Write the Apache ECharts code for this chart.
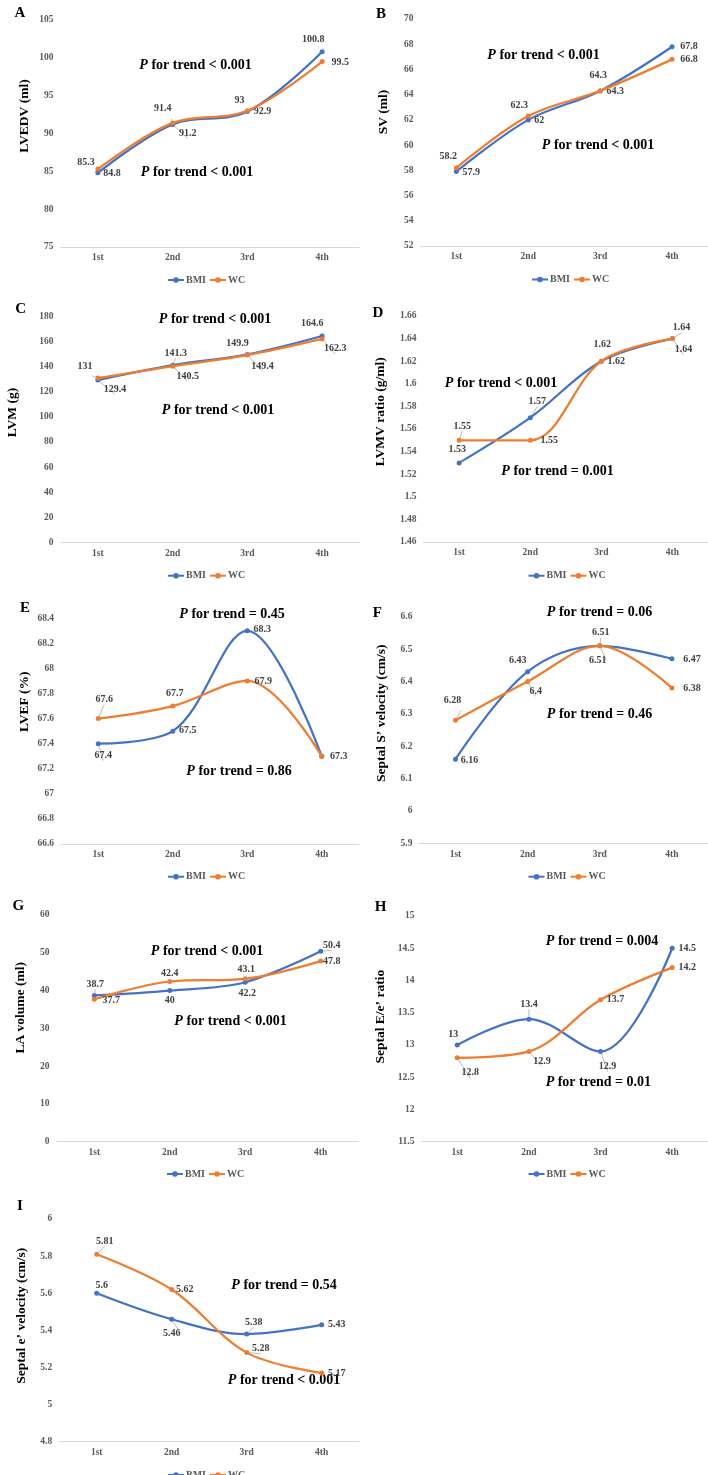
<!DOCTYPE html>
<html><head><meta charset="utf-8">
<script src="https://cdn.jsdelivr.net/npm/echarts@6/dist/echarts.min.js"></script>
<style>html,body{margin:0;padding:0;background:#fff}#c{width:708px;height:1475px}</style>
</head><body><div id="c"></div>
<script>
// ---------- DATA ----------
const categories = ['1st', '2nd', '3rd', '4th'];
const seriesNames = ['BMI', 'WC'];

const lvedvBMI = [84.8, 91.2, 92.9, 100.8];
const lvedvWC  = [85.3, 91.4, 93, 99.5];
const lvedvTicks = [75, 80, 85, 90, 95, 100, 105];

const svBMI = [57.9, 62, 64.3, 67.8];
const svWC  = [58.2, 62.3, 64.3, 66.8];
const svTicks = [52, 54, 56, 58, 60, 62, 64, 66, 68, 70];

const lvmBMI = [129.4, 141.3, 149.9, 164.6];
const lvmWC  = [131, 140.5, 149.4, 162.3];
const lvmTicks = [0, 20, 40, 60, 80, 100, 120, 140, 160, 180];

const lvmvBMI = [1.53, 1.57, 1.62, 1.64];
const lvmvWC  = [1.55, 1.55, 1.62, 1.64];
const lvmvTicks = [1.46, 1.48, 1.5, 1.52, 1.54, 1.56, 1.58, 1.6, 1.62, 1.64, 1.66];

const lvefBMI = [67.4, 67.5, 68.3, 67.3];
const lvefWC  = [67.6, 67.7, 67.9, 67.3];
const lvefTicks = [66.6, 66.8, 67, 67.2, 67.4, 67.6, 67.8, 68, 68.2, 68.4];

const sPrimeBMI = [6.16, 6.43, 6.51, 6.47];
const sPrimeWC  = [6.28, 6.4, 6.51, 6.38];
const sPrimeTicks = [5.9, 6, 6.1, 6.2, 6.3, 6.4, 6.5, 6.6];

const laBMI = [38.7, 40, 42.2, 50.4];
const laWC  = [37.7, 42.4, 43.1, 47.8];
const laTicks = [0, 10, 20, 30, 40, 50, 60];

const eeBMI = [13, 13.4, 12.9, 14.5];
const eeWC  = [12.8, 12.9, 13.7, 14.2];
const eeTicks = [11.5, 12, 12.5, 13, 13.5, 14, 14.5, 15];

const ePrimeBMI = [5.6, 5.46, 5.38, 5.43];
const ePrimeWC  = [5.81, 5.62, 5.28, 5.17];
const ePrimeTicks = [4.8, 5, 5.2, 5.4, 5.6, 5.8, 6];

const panelsData = [
  {letter: 'A', name: 'LVEDV (ml)', bmi: lvedvBMI, wc: lvedvWC, ticks: lvedvTicks, p: ['< 0.001', '< 0.001']},
  {letter: 'B', name: 'SV (ml)', bmi: svBMI, wc: svWC, ticks: svTicks, p: ['< 0.001', '< 0.001']},
  {letter: 'C', name: 'LVM (g)', bmi: lvmBMI, wc: lvmWC, ticks: lvmTicks, p: ['< 0.001', '< 0.001']},
  {letter: 'D', name: 'LVMV ratio (g/ml)', bmi: lvmvBMI, wc: lvmvWC, ticks: lvmvTicks, p: ['< 0.001', '= 0.001']},
  {letter: 'E', name: 'LVEF (%)', bmi: lvefBMI, wc: lvefWC, ticks: lvefTicks, p: ['= 0.45', '= 0.86']},
  {letter: 'F', name: 'Septal S\u2019 velocity (cm/s)', bmi: sPrimeBMI, wc: sPrimeWC, ticks: sPrimeTicks, p: ['= 0.06', '= 0.46']},
  {letter: 'G', name: 'LA volume (ml)', bmi: laBMI, wc: laWC, ticks: laTicks, p: ['< 0.001', '< 0.001']},
  {letter: 'H', name: 'Septal E/e\u2019 ratio', bmi: eeBMI, wc: eeWC, ticks: eeTicks, p: ['= 0.004', '= 0.01']},
  {letter: 'I', name: 'Septal e\u2019 velocity (cm/s)', bmi: ePrimeBMI, wc: ePrimeWC, ticks: ePrimeTicks, p: ['= 0.54', '< 0.001']}
];

// ---------- LAYOUT (positions / label placement) ----------
const layouts = [
  {grid: {left: 60.5, top: 20, width: 299, height: 227}, letter: [20, 13], name: [25, 116], legend: [201, 276],
   ann: [[195.5, 65], [197, 172]],
   bmiLab: [[14, 1], [15, 9], [15, 0], [-9, -12]], wcLab: [[-12, -7], [-10, -14], [-8, -10], [18, 1]],
   bmiLead: [0, 1, 0, 1], wcLead: [1, 1, 1, 0]},
  {grid: {left: 420.4, top: 19, width: 301.2, height: 227}, letter: [381, 14], name: [383.5, 112], legend: [565, 275.5],
   ann: [[543.5, 55], [598, 145]],
   bmiLab: [[15, 1], [11, 1], [15, 1], [17, 0]], wcLab: [[-8, -11], [-9, -11], [-2, -15], [17, 0]],
   bmiLead: [0, 0, 0, 0], wcLead: [1, 1, 1, 0]},
  {grid: {left: 60.5, top: 316.7, width: 299, height: 225.6}, letter: [20.7, 309.3], name: [13, 412.5], legend: [201, 571.7],
   ann: [[215, 319.3], [218, 410.7]],
   bmiLab: [[17, 9], [3, -12], [-10, -11], [-10, -13]], wcLab: [[-13, -12], [15, 10], [15, 11], [13, 10]],
   bmiLead: [1, 1, 1, 1], wcLead: [1, 1, 1, 1]},
  {grid: {left: 423.6, top: 316, width: 296.8, height: 226}, letter: [378, 312.7], name: [380.7, 411.7], legend: [561.5, 571.7],
   ann: [[501, 383.3], [557.5, 471.7]],
   bmiLab: [[-2, -13], [7, -16], [1, -17], [9, -11]], wcLab: [[3, -14], [19, 0], [15, 0], [11, 11]],
   bmiLead: [1, 1, 1, 1], wcLead: [1, 0, 0, 1]},
  {grid: {left: 61, top: 618.3, width: 298, height: 225.7}, letter: [25, 608.3], name: [25, 701.7], legend: [201, 872.7],
   ann: [[232, 614], [239, 771.7]],
   bmiLab: [[5, 12], [15, -1], [15, -1], [17, 0]], wcLab: [[6, -19], [2, -13], [16, 0], null],
   bmiLead: [1, 0, 0, 0], wcLead: [1, 0, 0, 0]},
  {grid: {left: 419.4, top: 616.7, width: 298.7, height: 226.6}, letter: [377.3, 612.7], name: [381.2, 713.3], legend: [561.5, 872.7],
   ann: [[599.5, 612.7], [599.5, 714]],
   bmiLab: [[14, 1], [-10, -11], [1, -13], [20, 1]], wcLab: [[-3, -20], [8, 10], [-2, 15], [20, 1]],
   bmiLead: [0, 1, 1, 0], wcLead: [1, 1, 1, 0]},
  {grid: {left: 56.6, top: 915, width: 301.8, height: 226.7}, letter: [18.3, 906], name: [20.8, 1007.8], legend: [200, 1170],
   ann: [[207, 951.7], [230.5, 1021.7]],
   bmiLab: [[1, -11], [0, 10], [2, 11], [11, -6]], wcLab: [[17, 1], [0, -8], [1, -9], [11, 0]],
   bmiLead: [1, 0, 0, 1], wcLead: [0, 0, 0, 0]},
  {grid: {left: 421.4, top: 916, width: 292.6, height: 225.7}, letter: [380.7, 906.7], name: [380.2, 1016.7], legend: [561.5, 1170],
   ann: [[602, 941.7], [598.3, 1082.3]],
   bmiLab: [[-4, -11], [0, -15], [7, 15], [15, 0]], wcLab: [[13, 15], [13, 10], [15, 0], [15, 0]],
   bmiLead: [0, 1, 1, 0], wcLead: [1, 1, 0, 0]},
  {grid: {left: 59.2, top: 1219, width: 300, height: 222.7}, letter: [20, 1206], name: [21.7, 1315.8], legend: [201, 1471],
   ann: [[284, 1285], [284, 1380.7]],
   bmiLab: [[5, -8], [0, 14], [7, -12], [15, 0]], wcLab: [[8, -13], [13, 0], [14, -4], [15, 0]],
   bmiLead: [0, 1, 1, 0], wcLead: [1, 0, 1, 0]}
];

// ---------- STYLE ----------
const FONT = '"Liberation Serif","Times New Roman",serif';
const COLORS = {BMI: '#4472C4', WC: '#ED7D31'};

const grids = [], xAxes = [], yAxes = [], series = [], legends = [], graphics = [];

function labeledData(values, offs, leads) {
  return values.map((v, j) => offs[j]
    ? {value: v, label: {show: true, offset: offs[j]},
       labelLine: {show: !!leads[j], lineStyle: {color: '#a6a6a6', width: 0.8}}}
    : {value: v, label: {show: false}});
}

panelsData.forEach((pd, i) => {
  const L = layouts[i];
  grids.push(Object.assign({containLabel: false}, L.grid));
  xAxes.push({
    type: 'category', gridIndex: i, data: categories, boundaryGap: true,
    axisLine: {show: true, lineStyle: {color: '#d9d9d9', width: 1}},
    axisTick: {show: false},
    axisLabel: {margin: 6, fontSize: 9.5, fontWeight: 'bold', fontFamily: FONT, color: '#595959'},
    splitLine: {show: false}
  });
  const t = pd.ticks;
  yAxes.push({
    type: 'value', gridIndex: i, min: t[0], max: t[t.length - 1],
    interval: +(t[1] - t[0]).toFixed(6),
    axisLine: {show: false}, axisTick: {show: false}, splitLine: {show: false},
    axisLabel: {margin: 7, fontSize: 9.5, fontWeight: 'bold', fontFamily: FONT, color: '#595959'}
  });
  [['BMI', pd.bmi, L.bmiLab, L.bmiLead], ['WC', pd.wc, L.wcLab, L.wcLead]].forEach(([nm, vals, offs, leads]) => {
    series.push({
      type: 'line', name: nm, xAxisIndex: i, yAxisIndex: i,
      data: labeledData(vals, offs, leads),
      smooth: 0.35, symbol: 'circle', symbolSize: 5,
      color: COLORS[nm],
      lineStyle: {width: 2.25, color: COLORS[nm]},
      itemStyle: {color: COLORS[nm]},
      label: {show: true, position: 'inside', fontSize: 10, fontWeight: 'bold', fontFamily: FONT,
              color: '#404040', textBorderWidth: 0},
      labelLine: {show: false, lineStyle: {color: '#a6a6a6', width: 0.8}},
      emphasis: {disabled: true},
      z: nm === 'WC' ? 3 : 2
    });
  });
  legends.push({
    data: seriesNames, left: L.legend[0] - 39, top: L.legend[1] - 6,
    itemWidth: 16, itemHeight: 7, itemGap: 3, selectedMode: false,
    textStyle: {fontSize: 10, fontWeight: 'bold', fontFamily: FONT, color: '#595959', padding: [0, 0, 0, -3]}
  });
  graphics.push({type: 'text', x: L.letter[0], y: L.letter[1], silent: true,
    style: {text: pd.letter, fontSize: 15, fontWeight: 'bold', fontFamily: FONT, fill: '#000',
            textAlign: 'center', textVerticalAlign: 'middle', align: 'center', verticalAlign: 'middle'}});
  graphics.push({type: 'text', x: L.name[0], y: L.name[1], rotation: Math.PI / 2, silent: true,
    style: {text: pd.name, fontSize: 13.5, fontWeight: 'bold', fontFamily: FONT, fill: '#000',
            textAlign: 'center', textVerticalAlign: 'middle', align: 'center', verticalAlign: 'middle'}});
  pd.p.forEach((pv, k) => {
    graphics.push({type: 'text', x: L.ann[k][0], y: L.ann[k][1], silent: true,
      style: {text: '{i|P}{n| for trend ' + pv + '}', fill: '#000', fontSize: 14, fontWeight: 'bold', fontFamily: FONT,
              textAlign: 'center', textVerticalAlign: 'middle', align: 'center', verticalAlign: 'middle',
              rich: {i: {fontStyle: 'italic', fontWeight: 'bold', fontSize: 14, fontFamily: FONT, fill: '#000', color: '#000'},
                     n: {fontWeight: 'bold', fontSize: 14, fontFamily: FONT, fill: '#000', color: '#000'}}}});
  });
});

const chart = echarts.init(document.getElementById('c'), null, {renderer: 'canvas'});
chart.setOption({
  animation: false,
  backgroundColor: '#fff',
  grid: grids, xAxis: xAxes, yAxis: yAxes, series: series, legend: legends,
  graphic: graphics
});
</script></body></html>
